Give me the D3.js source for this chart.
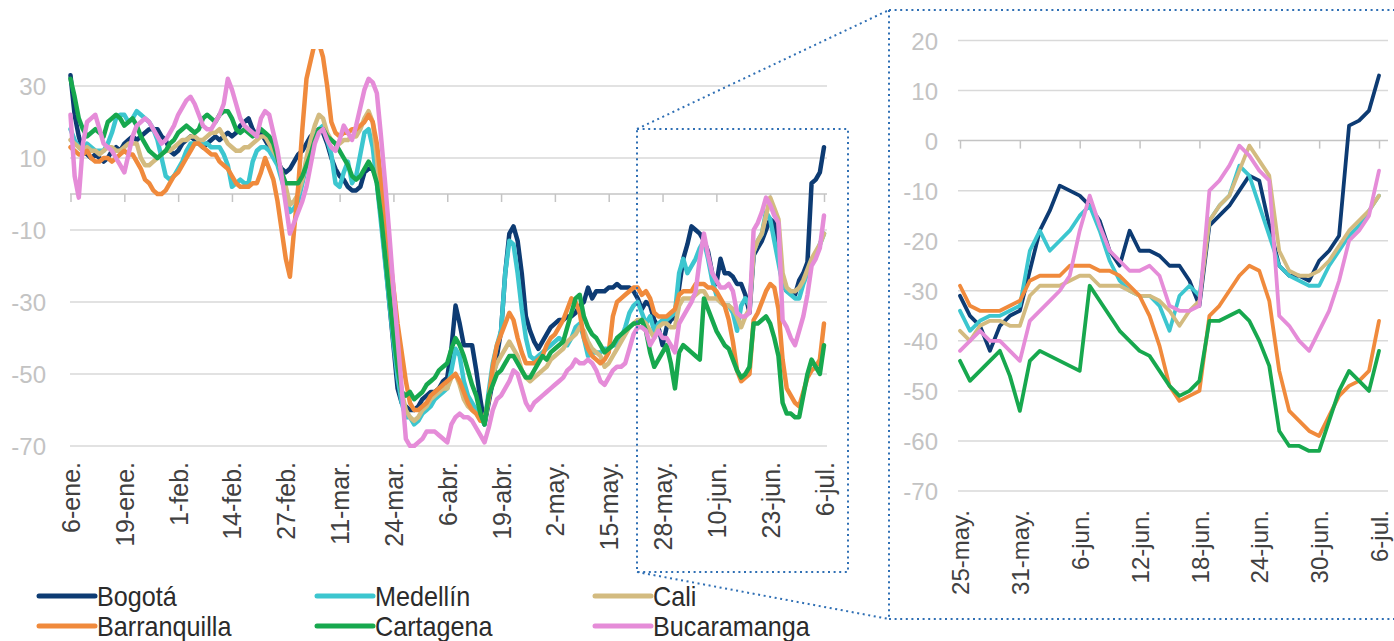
<!DOCTYPE html>
<html><head><meta charset="utf-8">
<script src="https://cdn.jsdelivr.net/npm/d3@7"></script>
<style>
body{margin:0;background:#fff;}
svg{display:block;font-family:"Liberation Sans",Arial,sans-serif;}
</style>
</head><body>
<svg id="chart" width="1394" height="641"></svg>
<script>
// ---------- DATA ----------
const startDate = "2020-01-06";
const nDays = 183;
const zoomStartIndex = 140; // 25-may
const monthNames = ["ene","feb","mar","abr","may","jun","jul","ago","sep","oct","nov","dic"];
const leftYTicks = [30, 10, -10, -30, -50, -70];
const rightYTicks = [20, 10, 0, -10, -20, -30, -40, -50, -60, -70];
const leftTickStep = 13;
const rightTickStep = 6;
const cities = ["Bogotá","Medellín","Cali","Barranquilla","Cartagena","Bucaramanga"];
const colors = ["#0d3b73","#3cc6cf","#d3bb80","#f08a3c","#17a84e","#e58cd8"];

const bogota = [33,22,16,12,11,10,11,10,9,10, 12,13,12,14,15,16,15,16,17,18, 18,18,16,15,12,11,12,14,15,16,
 15,14,13,14,15,16,15,16,17,16, 17,19,20,21,18,16,17,15,13,11, 9,7,6,7,9,11,12,14,16,17,
 18,17,14,10,7,5,4,2,1,1, 2,6,7,7,4,-6,-18,-30,-42,-54, -58,-59,-60,-60,-59,-57,-56,-55,-55,-54,
 -52,-51,-43,-31,-36,-42,-42,-42,-49,-57, -64,-58,-52,-45,-38,-22,-11,-9,-13,-22, -34,-38,-41,-43,-41,-39,-37,-36,-35,-35,
 -34,-34,-33,-31,-30,-26,-29,-27,-27,-27, -26,-26,-25,-26,-26,-26,-27,-29,-32,-30,
 -31,-35,-37,-42,-37,-35,-34,-26,-18,-14, -9,-10,-11,-13,-16,-22,-25,-18,-22,-22,
 -23,-25,-25,-28,-33,-17,-15,-13,-10,-7, -8,-17,-25,-27,-27,-28,-24,-22,-19,3, 4,6,13];

const medellin = [18,15,13,12,14,13,12,12,12,14, 17,21,22,22,20,21,23,22,21,20, 18,15,10,5,4,5,7,9,12,14,
 14,14,14,14,13,13,13,11,8,2, 3,4,3,3,9,12,13,13,12,10, 8,4,0,-5,-4,-2,3,8,12,16,
 18,19,15,11,3,2,6,9,3,5, 11,17,18,13,3,-8,-19,-30,-41,-51, -58,-62,-62,-64,-63,-61,-60,-59,-57,-56,
 -55,-54,-49,-43,-45,-52,-56,-58,-60,-62, -64,-55,-47,-42,-38,-22,-13,-14,-22,-32, -40,-45,-46,-45,-44,-43,-42,-41,-40,-41,
 -42,-40,-37,-36,-40,-45,-44,-44,-44,-43, -43,-42,-42,-40,-37,-33,-31,-30,-33,-36,
 -34,-38,-36,-35,-35,-34,-33,-22,-18,-22, -20,-18,-15,-13,-18,-24,-28,-30,-31,-31,
 -33,-38,-31,-29,-31,-16,-13,-11,-5,-7, -13,-19,-25,-27,-28,-29,-29,-25,-22,-19, -17,-14,-11];

const cali = [15,14,13,12,13,12,12,11,12,13, 13,12,12,13,14,14,14,10,8,8, 9,10,11,12,12,13,14,15,15,16,
 16,15,15,16,17,17,18,16,14,13, 12,12,13,13,14,15,16,16,14,12, 10,6,2,-3,-2,0,4,10,15,19,
 22,21,17,15,14,14,15,15,16,16, 18,21,23,20,10,-2,-13,-24,-35,-46, -55,-60,-62,-63,-62,-60,-59,-57,-56,-55,
 -54,-54,-51,-50,-53,-57,-59,-60,-61,-62, -63,-57,-50,-47,-45,-43,-41,-43,-45,-49, -51,-52,-51,-50,-49,-48,-46,-45,-44,-43,
 -41,-40,-39,-37,-38,-41,-43,-44,-45,-48, -47,-45,-43,-41,-39,-37,-36,-35,-35,-36,
 -38,-40,-37,-36,-36,-37,-37,-31,-29,-29, -29,-28,-27,-27,-29,-29,-29,-30,-31,-31,
 -32,-34,-37,-34,-32,-16,-13,-11,-6,-1, -4,-7,-22,-26,-27,-27,-26,-24,-21,-18, -16,-14,-11];

const barranquilla = [13,12,11,11,12,10,9,9,10,10, 9,10,11,12,11,11,9,7,4,3, 1,0,0,1,3,5,6,8,10,12,
 14,14,13,12,11,11,9,8,7,5, 3,2,2,2,3,3,6,10,7,4, -2,-10,-18,-23,-10,2,18,32,37,42,
 42,38,30,20,17,16,17,17,18,18, 19,20,22,20,14,4,-6,-16,-26,-36, -44,-52,-58,-60,-60,-59,-58,-56,-55,-54,
 -53,-52,-51,-50,-52,-55,-58,-60,-61,-63, -63,-57,-48,-42,-39,-36,-33,-35,-40,-44, -47,-47,-47,-46,-45,-42,-40,-39,-37,-35,
 -32,-29,-30,-33,-40,-43,-45,-46,-47,-46, -44,-34,-30,-29,-28,-27,-26,-26,-28,-27,
 -29,-33,-34,-34,-34,-33,-32,-28,-27,-27, -27,-25,-25,-25,-26,-26,-27,-29,-31,-35,
 -41,-49,-52,-51,-50,-35,-33,-30,-27,-25, -26,-32,-46,-54,-56,-58,-59,-55,-51,-49, -48,-46,-36];

const cartagena = [32,27,21,18,16,17,18,17,16,20, 21,22,21,19,20,21,19,16,14,12, 11,10,11,12,14,15,17,18,19,18,
 17,18,21,22,21,20,22,23,23,21, 18,17,18,17,16,17,18,17,16,14, 10,6,3,3,3,3,5,8,11,15,
 18,18,16,15,14,12,10,8,5,4, 5,7,9,7,3,-6,-17,-28,-39,-48, -55,-56,-55,-57,-56,-55,-53,-52,-51,-49,
 -48,-47,-43,-40,-42,-45,-49,-53,-56,-61, -64,-56,-53,-50,-49,-47,-45,-45,-47,-49, -51,-51,-49,-47,-45,-46,-44,-43,-42,-41,
 -37,-33,-29,-28,-34,-37,-39,-40,-42,-44, -43,-42,-40,-39,-38,-37,-36,-36,-35,-38,
 -44,-48,-46,-44,-42,-47,-54,-44,-42,-43, -44,-45,-46,-29,-32,-35,-38,-40,-42,-43,
 -46,-49,-51,-50,-48,-36,-36,-35,-34,-36, -40,-45,-58,-61,-61,-62,-62,-56,-50,-46, -48,-50,-42];

const bucaramanga = [22,5,-1,14,20,21,22,18,14,13, 12,10,8,6,11,16,19,20,21,20, 18,16,14,15,17,19,22,24,26,27,
 25,22,19,18,18,20,22,25,32,29, 25,21,19,18,17,16,21,23,22,17, 12,5,-3,-11,-8,-5,-2,2,8,14,
 17,18,15,13,12,15,19,17,15,19, 24,29,32,31,28,16,3,-11,-26,-40, -54,-68,-70,-70,-69,-68,-66,-66,-66,-67,
 -68,-69,-64,-62,-61,-62,-62,-63,-65,-67, -69,-65,-60,-57,-56,-54,-52,-49,-50,-54, -58,-60,-58,-57,-56,-55,-54,-53,-52,-51,
 -49,-48,-46,-47,-47,-46,-47,-49,-52,-53, -51,-49,-48,-48,-47,-43,-39,-37,-37,-38,
 -42,-40,-38,-40,-40,-42,-44,-36,-34,-32, -30,-27,-18,-11,-17,-22,-24,-26,-26,-25,
 -27,-33,-34,-34,-33,-10,-8,-5,-1,-3, -6,-8,-35,-37,-40,-42,-38,-34,-28,-20, -18,-15,-6];

const seriesValues = [bogota, medellin, cali, barranquilla, cartagena, bucaramanga];

// ---------- SETUP ----------
const svg = d3.select("#chart");
const parse = d3.timeParse("%Y-%m-%d");
const dates = d3.timeDay.range(parse(startDate), d3.timeDay.offset(parse(startDate), nDays));
const fmt = d => `${d.getDate()}-${monthNames[d.getMonth()]}.`;
const gridColor = "#d9d9d9";
const axisColor = "#c4c4c4";
const FONT = '"Liberation Sans",Arial,sans-serif';

function panel(opts) {
  const {idx, x, y, yTicks, tickStep, gridX0, gridX1, yLabelRight, xLabelOffset, xFont, yFont, lineW, clip} = opts;
  const g = svg.append("g");
  const dts = idx.map(i => dates[i]);
  // grid
  g.append("g").selectAll("line").data(yTicks.filter(v => v !== 0)).join("line")
    .attr("x1", gridX0).attr("x2", gridX1)
    .attr("y1", d => y(d)).attr("y2", d => y(d))
    .attr("stroke", gridColor).attr("stroke-width", 1.5);
  // y labels (hyphen-minus as in the original)
  const ya = d3.axisLeft(y).tickValues(yTicks).tickSize(0).tickPadding(0).tickFormat(d => String(d));
  const yg = g.append("g").attr("transform", `translate(${yLabelRight},0)`).call(ya);
  yg.select(".domain").remove();
  yg.selectAll("text").attr("fill", "#c3c3c3").attr("font-size", yFont)
    .attr("font-family", FONT).attr("x", 0).attr("dy", "0.36em");
  // zero axis with ticks
  const tickDates = dts.filter((d, i) => i % tickStep === 0);
  const za = d3.axisBottom(x).tickValues(tickDates).tickSize(8).tickFormat("");
  const zg = g.append("g").attr("transform", `translate(0,${y(0)})`).call(za);
  zg.select(".domain").attr("d", `M${gridX0},0H${gridX1}`).attr("stroke", axisColor).attr("stroke-width", 1.5);
  zg.selectAll(".tick line").attr("stroke", axisColor).attr("stroke-width", 1.5);
  // x labels (rotated)
  const la = d3.axisBottom(x).tickValues(tickDates).tickSize(0).tickFormat(fmt);
  const lg = g.append("g").attr("transform", `translate(0,${y(-70)})`).call(la);
  lg.select(".domain").remove();
  lg.selectAll("text")
    .attr("transform", "rotate(-90)")
    .attr("x", -xLabelOffset).attr("y", 0).attr("dy", "0.36em")
    .attr("text-anchor", "end")
    .attr("fill", "#404040").attr("font-size", xFont)
    .attr("font-family", FONT);
  // clip
  const cid = "clip" + gridX0;
  svg.append("defs").append("clipPath").attr("id", cid).append("rect")
    .attr("x", clip[0]).attr("y", clip[1]).attr("width", clip[2]).attr("height", clip[3]);
  const line = d3.line().x((d, i) => x(dts[i])).y(d => y(d));
  g.append("g").attr("clip-path", `url(#${cid})`)
    .selectAll("path").data(seriesValues.map((s, k) => ({vals: idx.map(i => s[i]), color: colors[k]})))
    .join("path")
    .attr("d", d => line(d.vals))
    .attr("fill", "none").attr("stroke", d => d.color)
    .attr("stroke-width", lineW).attr("stroke-linejoin", "round").attr("stroke-linecap", "round");
}

// left panel
const allIdx = d3.range(nDays);
const xL = d3.scaleTime().domain([dates[0], dates[nDays - 1]]).range([70.5, 824]);
const yL = d3.scaleLinear().domain([-70, 40]).range([446, 50]);
panel({idx: allIdx, x: xL, y: yL, yTicks: leftYTicks, tickStep: leftTickStep, gridX0: 70, gridX1: 827,
  yLabelRight: 46, xLabelOffset: 16, xFont: 25, yFont: 24, lineW: 4.5, clip: [60, 49, 780, 399]});

// right panel
const zIdx = d3.range(zoomStartIndex, nDays);
const xR = d3.scaleTime().domain([dates[zoomStartIndex], dates[nDays - 1]]).range([960, 1379]);
const yR = d3.scaleLinear().domain([-70, 20]).range([491, 40.5]);
panel({idx: zIdx, x: xR, y: yR, yTicks: rightYTicks, tickStep: rightTickStep, gridX0: 958, gridX1: 1388,
  yLabelRight: 938, xLabelOffset: 19, xFont: 24, yFont: 24, lineW: 3.8, clip: [940, 20, 454, 490]});

// dotted zoom boxes
const dotColor = "#2f6fb4";
const dot = sel => sel.attr("stroke", dotColor).attr("stroke-width", 2).attr("stroke-dasharray", "2 3.6").attr("fill", "none");
const box = svg.append("g");
box.append("rect").attr("x", 637).attr("y", 129).attr("width", 211).attr("height", 443).call(dot);
box.append("path").attr("d", "M889,10H1394M889,10V619M889,619H1394").call(dot);
box.append("line").attr("x1", 637).attr("y1", 129).attr("x2", 889).attr("y2", 10).call(dot);
box.append("line").attr("x1", 637).attr("y1", 572).attr("x2", 889).attr("y2", 619).call(dot);

// legend
const legendX = [39, 317, 595];
const legendY = [596, 626];
const leg = svg.append("g");
cities.forEach((c, k) => {
  const col = k % 3, row = Math.floor(k / 3);
  const gx = legendX[col], gy = legendY[row];
  leg.append("line").attr("x1", gx).attr("x2", gx + 56).attr("y1", gy).attr("y2", gy)
    .attr("stroke", colors[k]).attr("stroke-width", 5).attr("stroke-linecap", "round");
  leg.append("text").attr("transform", `translate(${gx + 58},${gy}) scale(0.9,1)`)
    .attr("dy", "0.36em").attr("font-size", 28).attr("fill", "#2b2b2b").text(c);
});
</script>
</body></html>
